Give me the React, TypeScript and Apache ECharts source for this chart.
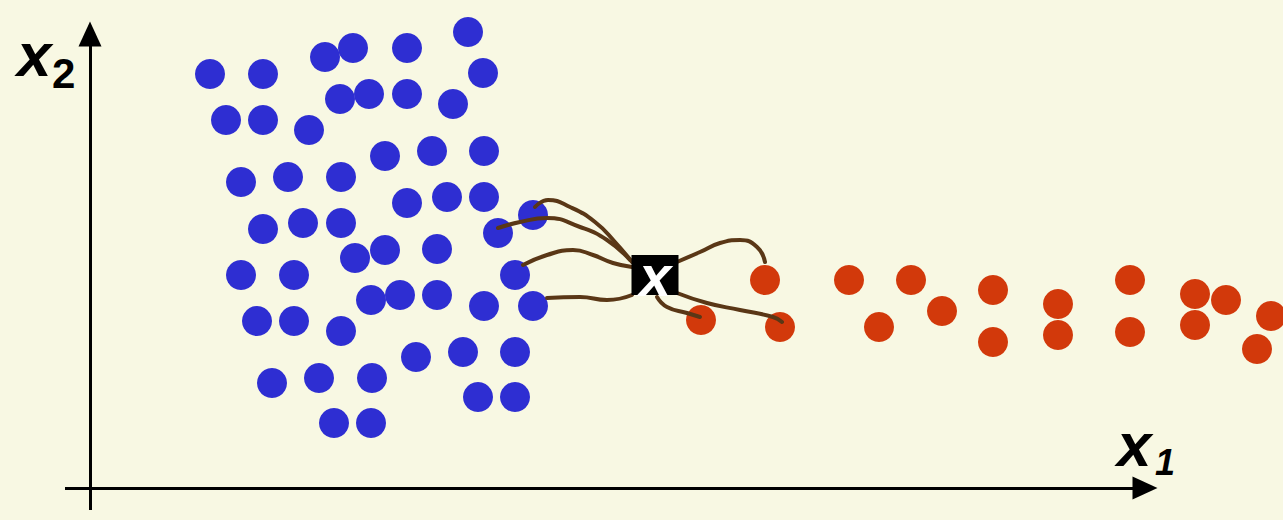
import React, { useEffect, useRef } from "react";
import * as echarts from "echarts";

// Class 1 (blue) samples: [x1, x2]
const blueX1 = [378, 263, 317, 235, 120, 173, 393, 250, 279, 317, 363, 136, 173, 219, 295, 342, 394, 151, 198, 251, 317, 357, 394, 173, 213, 251, 443, 408, 295, 347, 265, 151, 204, 425, 281, 310, 347, 394, 443, 167, 204, 251, 326, 373, 425, 182, 229, 282, 388, 425, 244, 281];
const blueX2 = [456, 440, 440, 431, 414, 414, 415, 389, 394, 394, 384, 368, 368, 358, 332, 337, 337, 306, 311, 311, 285, 291, 291, 259, 265, 265, 273, 255, 238, 239, 230, 213, 213, 213, 188, 193, 193, 182, 182, 167, 167, 157, 131, 136, 136, 105, 110, 110, 91, 91, 65, 65];

// Class 2 (red) samples
const redX1 = [675, 611, 690, 759, 821, 789, 852, 903, 903, 968, 968, 1040, 1040, 1105, 1105, 1136, 1181, 1167];
const redX2 = [208, 168, 161, 208, 208, 161, 177, 198, 146, 184, 153, 208, 156, 194, 163, 188, 172, 139];

// Query point
const queryPoint = [565, 213];
const queryLabel = "x";

// Hand-drawn neighbour links (from query to the k nearest samples)
const linkA = [[408, 260], [430, 266], [457, 270], [490, 261], [517, 248], [540, 228]];
const linkB = [[445, 281], [458, 288], [480, 281], [505, 266], [525, 246], [542, 226]];
const linkC = [[433, 223], [457, 233], [483, 238], [503, 233], [523, 225], [542, 221]];
const linkD = [[457, 190], [490, 191], [517, 188], [542, 193]];
const linkE = [[587, 226], [610, 236], [630, 245], [650, 248], [667, 241], [675, 226]];
const linkF = [[567, 191], [577, 181], [597, 175], [610, 171]];
const linkG = [[587, 195], [617, 185], [650, 178], [683, 171], [692, 166]];
const links = [linkA, linkB, linkC, linkD, linkE, linkF, linkG];

// Axis extents
const axisX1 = [-25, 1055];
const axisX2 = [-22, 454];
const axisNames = ["x", "1", "x", "2"];

const BG = "#f8f8e3";
const BLUE = "#2e2ed2";
const RED = "#d2390b";
const BROWN = "#5a3716";

export default function App() {
  const ref = useRef<HTMLDivElement>(null);
  useEffect(() => {
    document.body.style.margin = "0";
    const chart = echarts.init(ref.current!, null, { renderer: "svg" });
    const blue = blueX1.map((x, i) => [x, blueX2[i]]);
    const red = redX1.map((x, i) => [x, redX2[i]]);
    const linkSeries = links.map((pts) => ({
      type: "line",
      data: pts,
      smooth: 0.5,
      showSymbol: false,
      symbol: "none",
      lineStyle: { color: BROWN, width: 4, opacity: 1, cap: "round" },
      z: 3,
      silent: true,
    }));
    chart.setOption({
      animation: false,
      backgroundColor: BG,
      grid: { left: 0, right: 0, top: 0, bottom: 0 },
      xAxis: { type: "value", min: -90, max: 1193, show: false },
      yAxis: { type: "value", min: -32, max: 488, show: false },
      graphic: [
        { type: "text", left: 17, top: 23, style: { text: axisNames[2], font: "italic bold 62px 'Liberation Sans', Arial, sans-serif", fill: "#000" } },
        { type: "text", left: 52, top: 52, style: { text: axisNames[3], font: "bold 42px 'Liberation Sans', Arial, sans-serif", fill: "#000" } },
        { type: "text", left: 1117, top: 413, style: { text: axisNames[0], font: "italic bold 62px 'Liberation Sans', Arial, sans-serif", fill: "#000" } },
        { type: "text", left: 1155, top: 444, style: { text: axisNames[1], font: "italic bold 36px 'Liberation Sans', Arial, sans-serif", fill: "#000" } },
      ],
      series: [
        {
          type: "scatter",
          data: blue,
          symbolSize: 30,
          itemStyle: { color: BLUE, opacity: 1 },
          silent: true,
          z: 2,
          markLine: {
            silent: true,
            symbol: ["none", "triangle"],
            symbolSize: [23, 25],
            label: { show: false },
            lineStyle: { color: "#000", width: 3, type: "solid", opacity: 1 },
            data: [
              [{ coord: [axisX1[0], 0] }, { coord: [axisX1[1], 0] }],
              [{ coord: [0, axisX2[0]] }, { coord: [0, axisX2[1]] }],
            ],
          },
        },
        {
          type: "scatter",
          data: red,
          symbolSize: 30,
          itemStyle: { color: RED, opacity: 1 },
          silent: true,
          z: 2,
        },
        ...linkSeries,
        {
          type: "scatter",
          data: [queryPoint],
          symbol: "rect",
          symbolSize: [47, 40],
          itemStyle: { color: "#000", opacity: 1 },
          silent: true,
          z: 5,
          label: {
            show: true,
            position: "inside",
            formatter: queryLabel,
            color: "#fff",
            fontSize: 58,
            fontWeight: "bold",
            fontStyle: "italic",
            fontFamily: "'Liberation Sans', Arial, sans-serif",
          },
        },
      ],
    });
    return () => chart.dispose();
  }, []);
  return <div ref={ref} style={{ width: 1283, height: 520 }} />;
}
